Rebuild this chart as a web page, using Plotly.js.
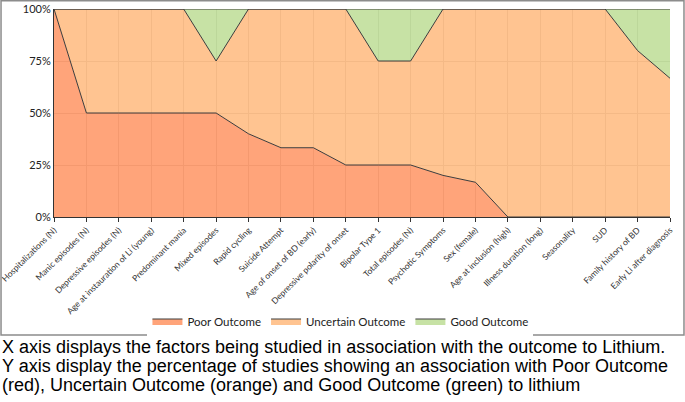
<!DOCTYPE html>
<html>
<head>
<meta charset="utf-8">
<script src="https://cdn.plot.ly/plotly-3.0.1.min.js"></script>
<style>
  html, body { margin: 0; padding: 0; background: #fff; }
  #plot { width: 685px; height: 402px; }
</style>
</head>
<body>
<div id="plot"></div>
<script>
const factors = [
    "Hospitalizations (N)", "Manic episodes (N)", "Depressive episodes (N)",
    "Age at instauration of Li (young)", "Predominant mania", "Mixed episodes",
    "Rapid cycling", "Suicide Attempt", "Age of onset of BD (early)",
    "Depressive polarity of onset", "Bipolar Type 1", "Total episodes (N)",
    "Psychotic Symptoms", "Sex (female)", "Age at inclusion (high)",
    "Illness duration (long)", "Seasonality", "SUD", "Family history of BD",
    "Early Li after diagnosis"
];
const poor = [100, 50, 50, 50, 50, 50, 40, 33.3, 33.3, 25, 25, 25, 20, 16.7, 0, 0, 0, 0, 0, 0];
const good = [0, 0, 0, 0, 0, 25, 0, 0, 0, 0, 25, 25, 0, 0, 0, 0, 0, 0, 20, 33.3];
const uncertain = poor.map((p, i) => 100 - p - good[i]);
const pctTicks = [0, 25, 50, 75, 100];

const x = factors.map((_, i) => i);
const edge = { color: "#3c3c3c", width: 1 };

const series = [
    ["Poor Outcome", poor, "rgba(255,141,89,0.8)"],
    ["Uncertain Outcome", uncertain, "rgba(255,181,117,0.8)"],
    ["Good Outcome", good, "rgba(185,219,142,0.8)"],
];

const data = series.map(([name, y, fill]) => ({
    x, y, name,
    type: "scatter",
    mode: "lines",
    stackgroup: "one",
    fillcolor: fill,
    line: edge,
    hoverinfo: "name+y"
}));

const captions = [
    "X axis displays the factors being studied in association with the outcome to Lithium.",
    "Y axis display the percentage of studies showing an association with Poor Outcome",
    "(red), Uncertain Outcome (orange) and Good Outcome (green) to lithium"
];

const layout = {
    width: 685, height: 402,
    margin: { l: 54, r: 15, t: 9, b: 185 },
    paper_bgcolor: "#fff",
    plot_bgcolor: "#fff",
    font: { family: "Lato, 'Open Sans', sans-serif", color: "#333" },
    showlegend: true,
    legend: {
        orientation: "h", x: 0.465, xanchor: "center", y: -0.5, yanchor: "middle",
        font: { size: 11.5, color: "#222" }, traceorder: "normal",
        itemwidth: 30, itemclick: false
    },
    xaxis: {
        range: [0, factors.length - 1],
        tickvals: x, ticktext: factors, tickangle: -45,
        tickfont: { size: 8.5, color: "#333" },
        ticklabeloverflow: "allow",
        showgrid: true, gridcolor: "#c8c8c8", gridwidth: 1,
        showline: true, linecolor: "#333", linewidth: 1,
        ticks: "outside", ticklen: 4, tickcolor: "#333",
        zeroline: false, fixedrange: true
    },
    yaxis: {
        range: [0, 100],
        tickvals: pctTicks, ticktext: pctTicks.map(v => v + "%"),
        tickfont: { size: 11, color: "#222" },
        showgrid: true, gridcolor: "#c8c8c8", gridwidth: 1,
        showline: true, linecolor: "#333", linewidth: 1,
        zeroline: false, fixedrange: true
    },
    shapes: [{
        type: "rect", xref: "paper", yref: "paper",
        x0: -0.086, x1: 1.0227, y0: -0.567, y1: 1.04,
        line: { color: "#8c8c8c", width: 1.5 }, fillcolor: "rgba(0,0,0,0)"
    }],
    annotations: captions.map((t, i) => ({
        text: t, xref: "paper", yref: "paper",
        x: -0.088, xanchor: "left",
        y: (217 - (347 + i * 19)) / 208, yanchor: "middle",
        showarrow: false,
        font: { family: "'Liberation Sans', Arial, sans-serif", size: 18, color: "#000" }
    }))
};

Plotly.newPlot("plot", data, layout, { displayModeBar: false, staticPlot: true });
</script>
</body>
</html>
